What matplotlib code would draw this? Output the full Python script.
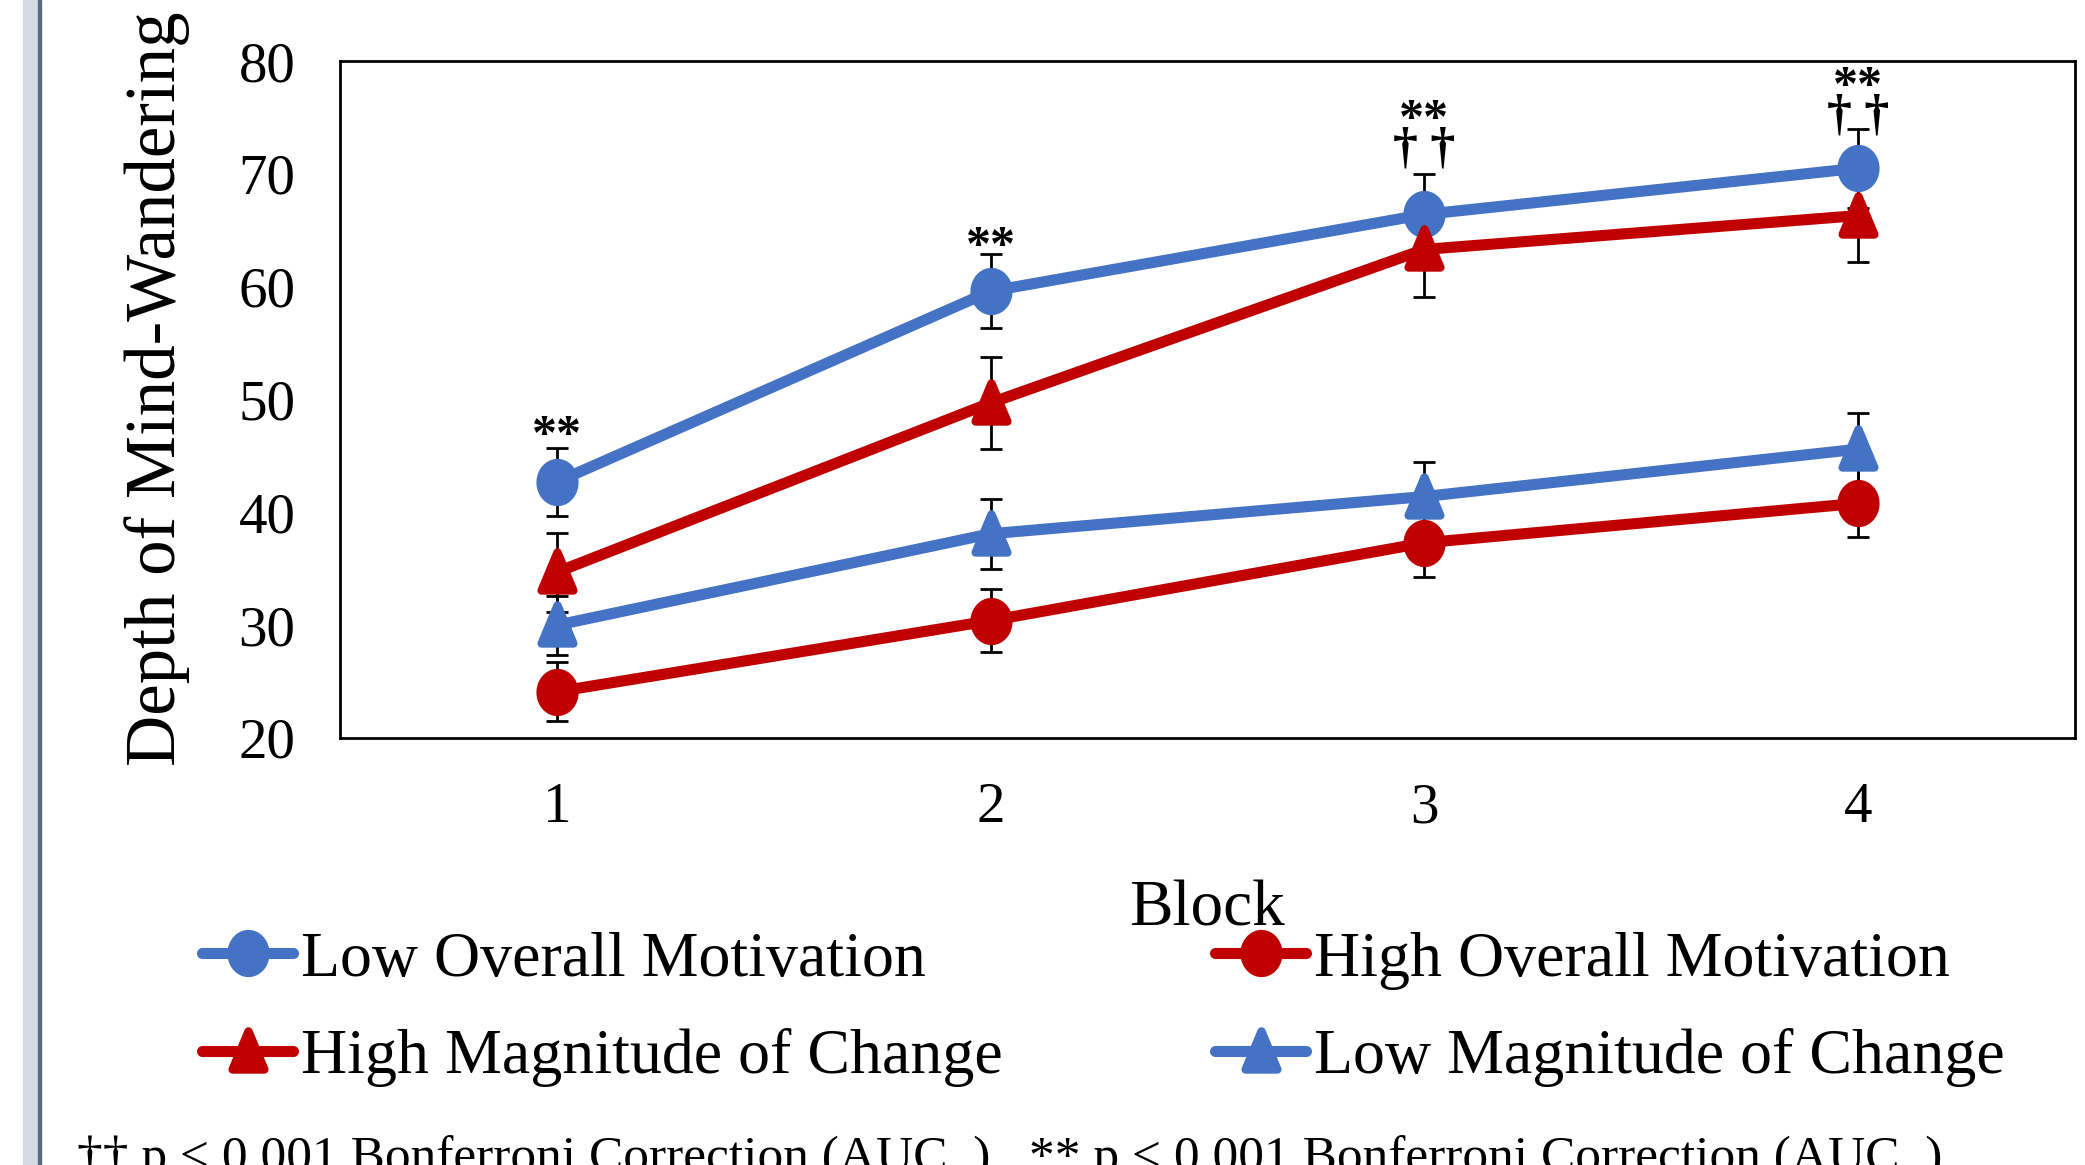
import numpy as np
import matplotlib
matplotlib.use("Agg")
import matplotlib.pyplot as plt
from matplotlib.path import Path
from matplotlib.markers import MarkerStyle
from matplotlib.patches import Rectangle

plt.rcParams['font.family'] = ['Liberation Serif', 'DejaVu Serif']

# data
blocks = [1, 2, 3, 4]
low_overall = [42.7, 59.6, 66.4, 70.5]
low_overall_err = [3.0, 3.3, 3.6, 3.5]
high_overall = [24.1, 30.4, 37.3, 40.8]
high_overall_err = [2.6, 2.8, 3.0, 3.0]
high_mag = [34.7, 49.7, 63.3, 66.3]
high_mag_err = [3.5, 4.1, 4.2, 4.1]
low_mag = [30.0, 38.1, 41.4, 45.6]
low_mag_err = [2.6, 3.1, 3.1, 3.2]

# significance marks above the Low Overall Motivation points
sig_labels = ['**', '**', '**\n\u2020 \u2020', '**\n\u2020 \u2020']
sig_y = [47.7, 64.4, 72.7, 75.6]

BLUE = '#4472C4'
RED = '#C00000'

# marker shapes: slightly tall ellipse, rounded triangle
t = np.linspace(0, 2 * np.pi, 80)
ellipse = MarkerStyle(Path(np.column_stack([np.cos(t), 1.12 * np.sin(t)]), closed=True))
tri = MarkerStyle(Path([(0, 19), (-15, -17), (15, -17), (0, 19)], closed=True),
                  joinstyle='round')

series = [
    ("Low Overall Motivation", low_overall, low_overall_err, BLUE, ellipse, 34, 0),
    ("High Overall Motivation", high_overall, high_overall_err, RED, ellipse, 34, 0),
    ("High Magnitude of Change", high_mag, high_mag_err, RED, tri, 29, 6),
    ("Low Magnitude of Change", low_mag, low_mag_err, BLUE, tri, 29, 6),
]

fig = plt.figure(figsize=(20.85, 11.65), dpi=100)

# left window border strip
fig.patches.append(Rectangle((23 / 2085, 0), 15 / 2085, 1, transform=fig.transFigure,
                             color='#d5dae3', zorder=0))
fig.patches.append(Rectangle((38 / 2085, 0), 2.5 / 2085, 1, transform=fig.transFigure,
                             color='#5b6a80', zorder=0))

ax = fig.add_axes([340 / 2085, 1 - 738 / 1165, 1735 / 2085, 677 / 1165])

handles = {}
for name, vals, err, col, mk, ms, mew in series:
    ax.errorbar(blocks, vals, yerr=err, fmt='none', ecolor='black', elinewidth=2,
                capsize=8, capthick=2, zorder=2)
    h, = ax.plot(blocks, vals, color=col, lw=8, marker=mk, markersize=ms,
                 markerfacecolor=col, markeredgecolor=col, markeredgewidth=mew,
                 solid_capstyle='round', zorder=3, label=name)
    handles[name] = h

for x, lab, y in zip(blocks, sig_labels, sig_y):
    if '\n' in lab:
        # stars over daggers, anchored on the dagger line
        ax.annotate(lab, (x, y), xytext=(0, -21), textcoords='offset points',
                    ha='center', va='bottom', multialignment='center',
                    fontsize=36, fontweight='bold', linespacing=0.5)
    else:
        ax.annotate(lab, (x, y), xytext=(0, -8), textcoords='offset points',
                    ha='center', va='center', fontsize=36, fontweight='bold')

ax.set_xlim(0.5, 4.5)
ax.set_ylim(20, 80)
ax.set_xticks(blocks)
ax.set_yticks(range(20, 81, 10))
ax.tick_params(length=0, labelsize=41, pad=32)
for sp in ax.spines.values():
    sp.set_linewidth(2)
    sp.set_color('black')

fig.text(1207 / 2085, 1 - 925 / 1165, 'Block', ha='center', va='baseline', fontsize=47)
fig.text(157 / 2085, 1 - 389 / 1165, 'Depth of Mind-Wandering', rotation=90,
         ha='center', va='center', fontsize=51)

order = ["Low Overall Motivation", "High Magnitude of Change",
         "High Overall Motivation", "Low Magnitude of Change"]
fig.legend([handles[n] for n in order], order, ncol=2, frameon=False, fontsize=46,
           loc='upper left', bbox_to_anchor=(202 / 2085, 1 - 931 / 1165),
           borderpad=0, borderaxespad=0, handlelength=1.43, handletextpad=0.12,
           columnspacing=3.32, labelspacing=0.6)

fig.text(77 / 2085, 1 - 1171 / 1165,
         '\u2020\u2020 p < 0.001 Bonferroni Correction (AUC  ),  ** p < 0.001 Bonferroni Correction (AUC  )',
         ha='left', va='baseline', fontsize=37)

fig.savefig('out.png', dpi=100)
